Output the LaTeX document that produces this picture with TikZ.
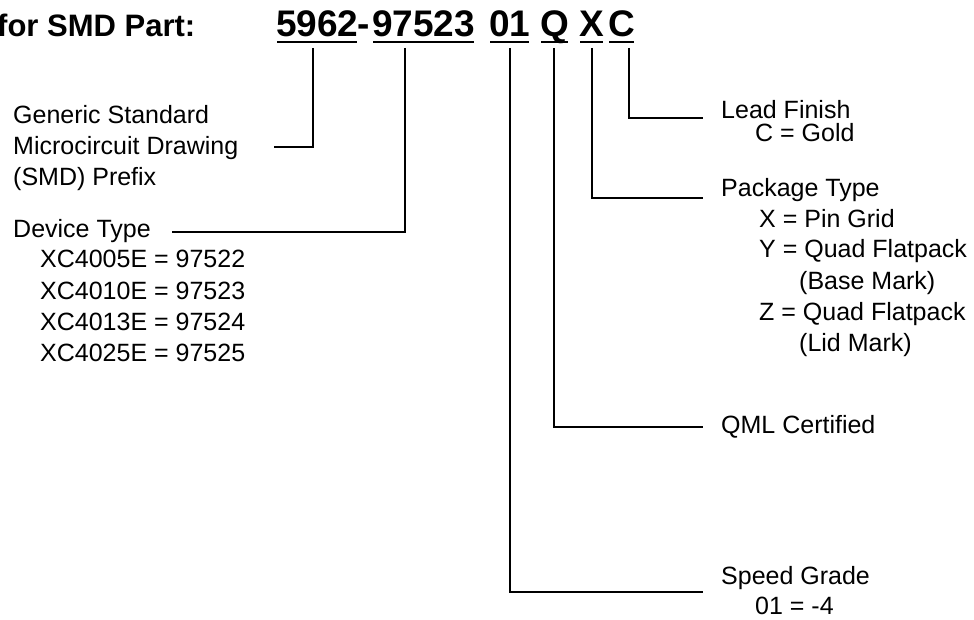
\documentclass[tikz,border=0pt]{standalone}
\usepackage{fontspec}
\setmainfont{Liberation Sans}
\begin{document}
\begin{tikzpicture}[x=1pt,y=-1pt,
  txt/.style={anchor=base west,inner sep=0pt,font=\fontsize{25}{30}\selectfont},
  big/.style={anchor=base west,inner sep=0pt,font=\fontsize{37}{40}\selectfont\bfseries},
  ttl/.style={anchor=base west,inner sep=0pt,font=\fontsize{31}{36}\selectfont\bfseries},
  conn/.style={line width=1.6pt},
  uline/.style={line width=2pt}]
\useasboundingbox (0,0) rectangle (974,620);
% title
\node[ttl] (title) at (-3,37) {for SMD Part:};
% part number
\node[big] (p1) at (276,37) {5962};
\node[big] (dash) at (357,37) {-};
\node[big] (p2) at (372,37) {97523};
\node[big] (p3) at (489,37) {01};
\node[big] (p4) at (540,37) {Q};
\node[big] (p5) at (579,37) {X};
\node[big] (p6) at (608,37) {C};
\foreach \n in {p1,p2,p3,p4,p5,p6}
  \draw[uline] ([xshift=1pt,yshift=-5pt]\n.base west) -- ([xshift=-1.5pt,yshift=-5pt]\n.base east);
% left labels
\node[txt] (g1) at (13,124) {Generic Standard};
\node[txt] (g2) at (13,155) {Microcircuit Drawing};
\node[txt] (g3) at (13,186) {(SMD) Prefix};
\node[txt] (d0) at (13,238) {Device Type};
\node[txt] (d1) at (40,268) {XC4005E = 97522};
\node[txt] (d2) at (40,299) {XC4010E = 97523};
\node[txt] (d3) at (40,330) {XC4013E = 97524};
\node[txt] (d4) at (40,361) {XC4025E = 97525};
% right labels
\node[txt] (l0) at (721,119) {Lead Finish};
\node[txt] (l1) at (755,142) {C = Gold};
\node[txt] (k0) at (721,197) {Package Type};
\node[txt] (k1) at (759,228) {X = Pin Grid};
\node[txt] (k2) at (759,258) {Y = Quad Flatpack};
\node[txt] (k3) at (799,289) {(Base Mark)};
\node[txt] (k4) at (759,320) {Z = Quad Flatpack};
\node[txt] (k5) at (799,351) {(Lid Mark)};
\node[txt] (q0) at (721,433) {QML Certified};
\node[txt] (s0) at (721,584) {Speed Grade};
\node[txt] (s1) at (755,614) {01 = -4};
% connector ends
\coordinate (t1) at (313,48); \coordinate (e1) at (274,147);
\coordinate (t2) at (405,48); \coordinate (e2) at (172,232);
\coordinate (t3) at (510,48); \coordinate (e3) at (703,592);
\coordinate (t4) at (554,48); \coordinate (e4) at (703,427);
\coordinate (t5) at (592,48); \coordinate (e5) at (703,198);
\coordinate (t6) at (629,48); \coordinate (e6) at (703,118);
\foreach \i in {1,...,6}
  \draw[conn] (t\i) |- (e\i);
\end{tikzpicture}
\end{document}
